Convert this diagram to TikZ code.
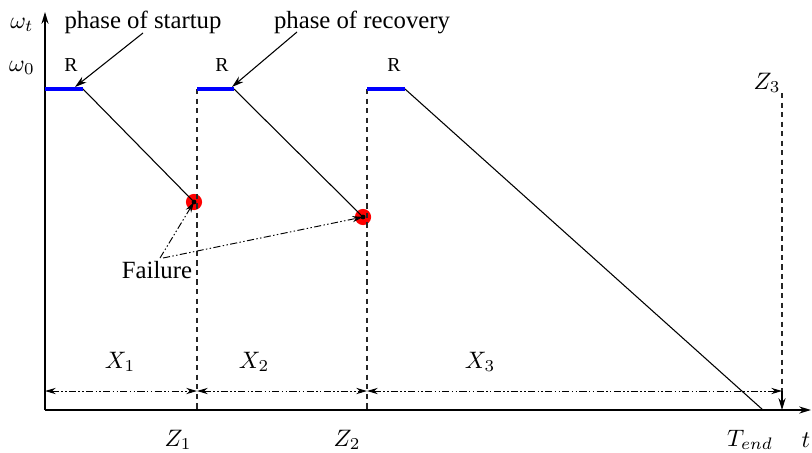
\documentclass[tikz,border=0pt]{standalone}
\usepackage[no-math]{fontspec}
\setmainfont{Liberation Serif}
\usepackage{amsmath}
\usetikzlibrary{arrows.meta}

\begin{document}
\begin{tikzpicture}[x=0.42pt, y=-0.42pt, every node/.style={inner sep=0pt, font=\fontsize{10.4}{12}\selectfont},
    axis/.style={-{Stealth[length=5pt, width=3pt]}, line width=0.5pt},
    plateau/.style={blue, line width=1.3pt},
    decay/.style={line width=0.45pt},
    zmark/.style={gray!30!black, line width=0.45pt, dash pattern=on 2.2pt off 1.8pt},
    span/.style={{Stealth[length=4.5pt, width=2.6pt]}-{Stealth[length=4.5pt, width=2.6pt]}, line width=0.4pt, dash pattern=on 3pt off 1pt on 0.6pt off 1pt on 0.6pt off 1pt},
    failline/.style={-{Stealth[length=4.5pt, width=2.6pt]}, line width=0.4pt, dash pattern=on 3pt off 1pt on 0.6pt off 1pt on 0.6pt off 1pt},
    callout/.style={-{Stealth[length=5pt, width=3pt]}, line width=0.45pt},
    faildot/.style={circle, fill=red, minimum size=6.8pt},
    rlabel/.style={font=\fontsize{8.3}{9}\selectfont}]
  \useasboundingbox (0,0) rectangle (812,452);

  % axes
  \coordinate (O) at (45,410);
  \coordinate (ytop) at (45,12);
  \coordinate (xend) at (811,410);
  \draw[axis] (O) -- (ytop);
  \draw[axis] (O) -- (xend);
  \node (wt) at (22,25) {$\omega_t$};
  \node (w0) at (22,68) {$\omega_0$};
  \node (t) at (806,440) {$t$};

  % restart instants
  \coordinate (s1) at (45,89);   \coordinate (e1) at (83,89);
  \coordinate (s2) at (197,89);  \coordinate (e2) at (234,89);
  \coordinate (s3) at (367,89);  \coordinate (e3) at (405,89);
  \coordinate (z1) at (197,410); \coordinate (z2) at (367,410);
  \coordinate (z3top) at (782,93); \coordinate (z3) at (782,391); \coordinate (z3ax) at (782,410);
  \coordinate (tend) at (763,410);

  % failure points
  \node[faildot] (f1) at (194,202) {};
  \node[faildot] (f2) at (363,217) {};

  % dashed instants
  \draw[zmark] (s2) -- (z1);
  \draw[zmark] (s3) -- (z2);
  \draw[zmark] (z3top) -- (z3);
  \draw[callout] (z3) -- (z3ax);

  % wear curves
  \draw[decay] (e1) -- (f1.center);
  \draw[decay] (e2) -- (f2.center);
  \draw[decay] (e3) -- (tend);
  \fill (f1.center) circle (1pt);
  \fill (f2.center) circle (1pt);
  \draw[plateau] (s1) -- (e1);
  \draw[plateau] (s2) -- (e2);
  \draw[plateau] (s3) -- (e3);
  \node[rlabel] (r1) at (71,65) {R};
  \node[rlabel] (r2) at (222,65) {R};
  \node[rlabel] (r3) at (394,65) {R};

  % phase labels
  \node (startup) at (143,22) {phase of startup};
  \node (recovery) at (362,22) {phase of recovery};
  \coordinate (pa) at (143,33); \coordinate (pb) at (297,32);
  \draw[callout] (pa) -- (75,87);
  \draw[callout] (pb) -- (232,87);

  % failure label
  \node (fail) at (157,270) {Failure};
  \coordinate (fa) at (160,258); \coordinate (fb) at (163,258);
  \draw[failline] (fa) -- (f1.center);
  \draw[failline] (fb) -- (f2.center);

  % intervals
  \coordinate (a0) at (45,391); \coordinate (a1) at (197,391); \coordinate (a2) at (367,391);
  \draw[span] (a0) -- (a1);
  \draw[span] (a1) -- (a2);
  \draw[span] (a2) -- (z3);
  \node (x1) at (120,362) {$X_1$};
  \node (x2) at (254,362) {$X_2$};
  \node (x3) at (480,362) {$X_3$};

  % time marks
  \node (zl1) at (178,440) {$Z_1$};
  \node (zl2) at (347,440) {$Z_2$};
  \node (zl3) at (767,83) {$Z_3$};
  \node (tl) at (750,440) {$T_{end}$};
\end{tikzpicture}
\end{document}
